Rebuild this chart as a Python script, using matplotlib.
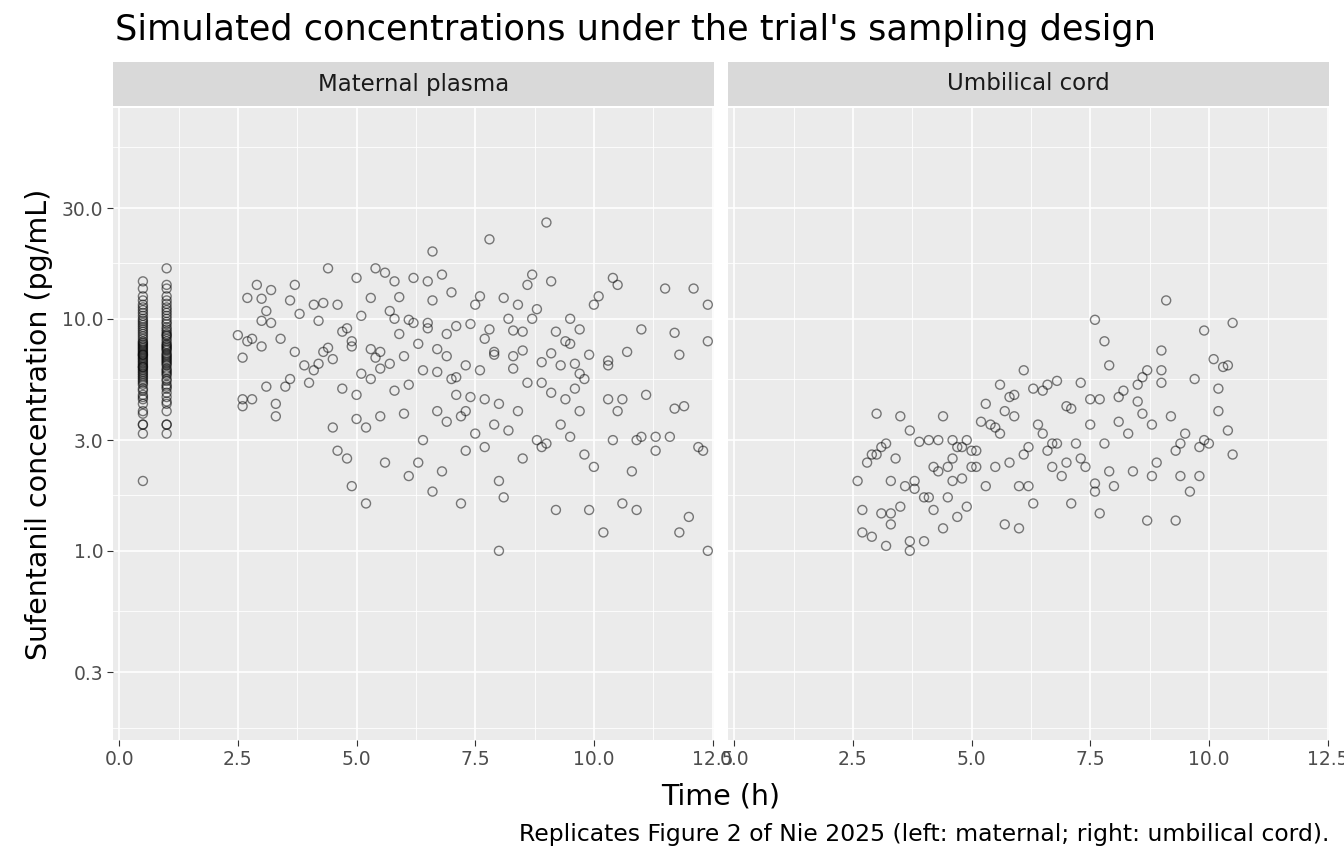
import matplotlib
matplotlib.use("Agg")
import matplotlib.pyplot as plt
import numpy as np

# early samples at 0.5 h and 1.0 h (maternal), pg/mL
early_05 = [2.0, 3.2, 3.5, 3.9, 4.0, 4.3, 4.5, 4.7, 4.9, 5.0, 5.2, 5.3, 5.5, 5.6, 5.7, 5.8,
            5.9, 6.0, 6.1, 6.2, 6.3, 6.4, 6.5, 6.6, 6.7, 6.8, 6.9, 7.0, 7.1, 7.2, 7.3, 7.4,
            7.5, 7.6, 7.7, 7.8, 7.9, 8.0, 8.2, 8.4, 8.6, 8.8, 9.0, 9.2, 9.4, 9.6, 9.8, 10.0,
            10.3, 10.6, 10.9, 11.2, 11.5, 12.0, 12.5, 13.5, 14.5, 3.5, 4.6, 5.4, 6.2, 7.0]
early_10 = [3.2, 3.5, 4.0, 4.3, 4.6, 4.8, 5.0, 5.2, 5.4, 5.5, 5.7, 5.8, 6.0, 6.1, 6.3, 6.4,
            6.5, 6.6, 6.8, 6.9, 7.0, 7.1, 7.3, 7.4, 7.5, 7.7, 7.8, 8.0, 8.2, 8.4, 8.6, 8.8,
            9.0, 9.2, 9.5, 9.7, 10.0, 10.3, 10.6, 10.9, 11.2, 11.6, 12.0, 12.5, 13.5, 14.0,
            16.5, 3.5, 4.4, 5.1, 5.9, 6.7, 7.6, 8.5]

# later maternal samples: (time h, conc pg/mL)
maternal = [
    (2.5, 8.5), (2.6, 4.5), (2.6, 6.8), (2.6, 4.2), (2.7, 12.3), (2.7, 8.0), (2.8, 8.2),
    (2.8, 4.5), (2.9, 14.0), (3.0, 7.6), (3.0, 12.2), (3.1, 10.8), (3.1, 5.1), (3.2, 13.3),
    (3.2, 9.6), (3.3, 4.3), (3.3, 3.8), (3.4, 8.2), (3.5, 5.1), (3.6, 12.0), (3.7, 14.0),
    (3.7, 7.2), (3.8, 10.5), (3.9, 6.3), (4.0, 5.3), (4.1, 11.5), (4.2, 6.4), (4.2, 9.8),
    (4.3, 11.7), (4.4, 7.5), (4.4, 16.5), (4.5, 3.4), (4.5, 6.7), (4.6, 2.7), (4.6, 11.5),
    (4.7, 5.0), (4.7, 8.8), (4.8, 2.5), (4.8, 9.1), (4.9, 1.9), (4.9, 7.6), (5.0, 3.7),
    (5.0, 15.0), (5.0, 4.7), (5.1, 10.3), (5.1, 5.8), (5.2, 1.6), (5.2, 3.4), (5.3, 12.3),
    (5.3, 5.5), (5.4, 16.5), (5.4, 6.8), (5.5, 3.8), (5.5, 7.2), (5.6, 15.8), (5.6, 2.4),
    (5.7, 6.4), (5.7, 10.8), (5.8, 14.5), (5.8, 4.9), (5.9, 8.6), (5.9, 12.4), (6.0, 3.9),
    (6.0, 6.9), (6.1, 2.1), (6.1, 5.2), (6.2, 9.6), (6.2, 15.0), (6.3, 2.4), (6.3, 7.8),
    (6.4, 6.0), (6.4, 3.0), (6.5, 14.5), (6.5, 9.6), (6.6, 1.8), (6.6, 19.5), (6.6, 12.0),
    (6.7, 4.0), (6.7, 7.4), (6.8, 2.2), (6.8, 15.5), (6.9, 3.6), (6.9, 6.9), (7.0, 13.0),
    (7.0, 5.5), (7.1, 4.7), (7.1, 9.3), (7.2, 1.6), (7.2, 3.8), (7.3, 2.7), (7.3, 6.3),
    (7.4, 9.5), (7.4, 4.6), (7.5, 11.5), (7.5, 3.2), (7.6, 6.0), (7.6, 12.5), (7.7, 4.5),
    (7.7, 2.8), (7.8, 22.0), (7.8, 9.0), (7.9, 3.5), (7.9, 7.2), (8.0, 1.0), (8.0, 2.0),
    (8.0, 4.3), (8.1, 12.3), (8.1, 1.7), (8.2, 3.3), (8.2, 10.0), (8.3, 6.1), (8.3, 8.9),
    (8.4, 4.0), (8.4, 11.5), (8.5, 2.5), (8.5, 7.3), (8.6, 14.0), (8.6, 5.3), (8.7, 15.5),
    (8.7, 10.0), (8.8, 3.0), (8.8, 11.0), (8.9, 2.8), (8.9, 6.5), (9.0, 26.0), (9.0, 2.9),
    (9.1, 14.5), (9.1, 4.8), (9.2, 8.8), (9.2, 1.5), (9.3, 6.3), (9.3, 3.5), (9.4, 4.5),
    (9.4, 8.0), (9.5, 3.1), (9.5, 10.0), (9.6, 5.0), (9.6, 6.4), (9.7, 4.0), (9.7, 9.0),
    (9.8, 2.6), (9.8, 5.5), (9.9, 1.5), (9.9, 7.0), (10.0, 11.5), (10.0, 2.3), (10.1, 12.5),
    (10.2, 1.2), (10.3, 6.6), (10.3, 4.5), (10.4, 15.0), (10.4, 3.0), (10.5, 4.0),
    (10.5, 14.0), (10.6, 1.6), (10.6, 4.5), (10.7, 7.2), (10.8, 2.2), (10.9, 1.5),
    (11.0, 3.1), (11.0, 9.0), (11.1, 4.7), (11.3, 2.7), (11.5, 13.5), (11.6, 3.1),
    (11.7, 8.7), (11.8, 7.0), (11.9, 4.2), (12.0, 1.4), (12.1, 13.5), (12.3, 2.7),
    (12.4, 1.0), (3.0, 9.8), (3.6, 5.5), (4.3, 7.2), (4.9, 8.0), (5.5, 6.1), (6.1, 9.9),
    (6.7, 5.9), (7.3, 4.0), (7.9, 7.0), (8.5, 8.8), (9.1, 7.1), (9.7, 5.8), (10.3, 6.3),
    (10.9, 3.0), (11.8, 1.2), (12.4, 8.0), (4.1, 6.0), (5.3, 7.4), (6.5, 9.1), (7.1, 5.6),
    (7.7, 8.2), (8.3, 6.9), (8.9, 5.3), (9.5, 7.8), (5.8, 10.0), (6.9, 8.6),
    (11.7, 4.1), (12.4, 11.5), (12.2, 2.8), (11.3, 3.1),
]

# umbilical cord samples: (time h, conc pg/mL)
cord = [
    (2.6, 2.0), (2.7, 1.2), (2.7, 1.5), (2.8, 2.4), (2.9, 1.15), (2.9, 2.6), (3.0, 3.9),
    (3.1, 2.8), (3.1, 1.45), (3.2, 1.05), (3.2, 2.9), (3.3, 1.3), (3.3, 1.45), (3.3, 2.0),
    (3.4, 2.5), (3.5, 1.55), (3.6, 1.9), (3.7, 1.0), (3.7, 1.1), (3.7, 3.3), (3.8, 1.85),
    (3.8, 2.0), (3.9, 2.95), (4.0, 1.1), (4.0, 1.7), (4.1, 3.0), (4.2, 1.5), (4.2, 2.3),
    (4.3, 2.2), (4.3, 3.0), (4.4, 1.25), (4.4, 3.8), (4.5, 1.7), (4.5, 2.3), (4.6, 3.0),
    (4.6, 2.5), (4.7, 1.4), (4.7, 2.8), (4.8, 2.05), (4.8, 2.8), (4.9, 1.55), (4.9, 3.0),
    (5.0, 2.3), (5.0, 2.7), (5.1, 2.7), (5.2, 3.6), (5.3, 1.9), (5.3, 4.3), (5.4, 3.5),
    (5.5, 2.3), (5.5, 3.4), (5.6, 5.2), (5.7, 1.3), (5.7, 4.0), (5.8, 2.4), (5.8, 4.6),
    (5.9, 3.8), (5.9, 4.7), (6.0, 1.25), (6.0, 1.9), (6.1, 2.6), (6.1, 6.0), (6.2, 2.8),
    (6.3, 1.6), (6.3, 5.0), (6.4, 3.5), (6.5, 3.2), (6.5, 4.9), (6.6, 5.2), (6.7, 2.3),
    (6.7, 2.9), (6.8, 2.9), (6.8, 5.4), (6.9, 2.1), (7.0, 2.4), (7.0, 4.2), (7.1, 1.6),
    (7.2, 2.9), (7.3, 5.3), (7.3, 2.5), (7.4, 2.3), (7.5, 3.5), (7.5, 4.5), (7.6, 1.8),
    (7.6, 9.9), (7.7, 1.45), (7.7, 4.5), (7.8, 8.0), (7.8, 2.9), (7.9, 2.2), (7.9, 6.3),
    (8.0, 1.9), (8.1, 4.6), (8.2, 4.9), (8.3, 3.2), (8.4, 2.2), (8.5, 5.2), (8.5, 4.4),
    (8.6, 5.6), (8.6, 3.9), (8.7, 1.35), (8.7, 6.0), (8.8, 3.5), (8.9, 2.4), (9.0, 5.3),
    (9.0, 7.3), (9.1, 12.0), (9.2, 3.8), (9.3, 2.7), (9.3, 1.35), (9.4, 2.1), (9.5, 3.2),
    (9.6, 1.8), (9.7, 5.5), (9.8, 2.8), (9.8, 2.1), (9.9, 3.0), (9.9, 8.9), (10.0, 2.9),
    (10.1, 6.7), (10.3, 6.2), (10.4, 3.3), (10.4, 6.3), (10.5, 9.6), (3.0, 2.6), (3.5, 3.8),
    (4.1, 1.7), (4.6, 2.0), (5.1, 2.3), (5.6, 3.2), (6.2, 1.9), (6.6, 2.7), (7.1, 4.1),
    (7.6, 1.95), (8.1, 3.6), (8.8, 2.1), (9.4, 2.9), (10.2, 5.0), (10.5, 2.6), (10.2, 4.0),
    (9.0, 6.0),
]

caption = "Replicates Figure 2 of Nie 2025 (left: maternal; right: umbilical cord)."

mat_t, mat_c = zip(*maternal)
cord_t, cord_c = zip(*cord)
panels = [
    ("Maternal plasma",
     [0.5] * len(early_05) + [1.0] * len(early_10) + list(mat_t),
     early_05 + early_10 + list(mat_c)),
    ("Umbilical cord", cord_t, cord_c),
]

fig = plt.figure(figsize=(13.44, 8.64), dpi=100)
W, H = 1344, 864
xmajor = [0, 2.5, 5, 7.5, 10, 12.5]
xminor = [1.25, 3.75, 6.25, 8.75, 11.25]
ymajor = [0.3, 1, 3, 10, 30]
yminor = [np.sqrt(a * b) for a, b in zip([0.1] + ymajor, ymajor + [100])]

for i, (name, t, c) in enumerate(panels):
    x0 = 113 if i == 0 else 728
    ax = fig.add_axes([x0 / W, 1 - 740 / H, 601 / W, 632 / H])
    ax.set_facecolor("#EBEBEB")
    ax.set_yscale("log")
    ax.set_xlim(-0.13, 12.53)
    ax.set_ylim(0.153, 81)
    for v in xminor:
        ax.axvline(v, color="white", lw=0.6, zorder=0)
    for v in yminor:
        ax.axhline(v, color="white", lw=0.6, zorder=0)
    for v in xmajor:
        ax.axvline(v, color="white", lw=1.2, zorder=0)
    for v in ymajor:
        ax.axhline(v, color="white", lw=1.2, zorder=0)
    ax.scatter(t, c, s=42, facecolors="none", edgecolors=(0, 0, 0, 0.5), linewidths=1.0, zorder=2)
    for s in ax.spines.values():
        s.set_visible(False)
    ax.set_xticks(xmajor)
    ax.set_xticklabels(["0.0", "2.5", "5.0", "7.5", "10.0", "12.5"])
    ax.minorticks_off()
    ax.set_yticks(ymajor)
    ax.set_yticklabels(["0.3", "1.0", "3.0", "10.0", "30.0"] if i == 0 else [])
    ax.tick_params(colors="#333333", labelcolor="#4D4D4D", labelsize=13.5, length=4, width=0.8,
                   pad=3)
    if i == 1:
        ax.tick_params(axis="y", length=0)
    else:
        ax.set_ylabel("Sufentanil concentration (pg/mL)", fontsize=20.5, labelpad=6)
    sax = fig.add_axes([x0 / W, 1 - 106 / H, 601 / W, 44 / H])
    sax.set_facecolor("#D9D9D9")
    sax.set_xticks([])
    sax.set_yticks([])
    for s in sax.spines.values():
        s.set_visible(False)
    sax.text(0.5, 0.5, name, ha="center", va="center", fontsize=16.5, color="#1A1A1A",
             transform=sax.transAxes)

fig.text(115 / W, 1 - 30 / H, "Simulated concentrations under the trial's sampling design",
         fontsize=25.3, va="center", ha="left")
fig.text(721 / W, 1 - 797 / H, "Time (h)", fontsize=20.5, ha="center", va="center")
fig.text(1329 / W, 1 - 835 / H, caption, fontsize=16.9, ha="right", va="center")

fig.savefig("out.png", dpi=100)
